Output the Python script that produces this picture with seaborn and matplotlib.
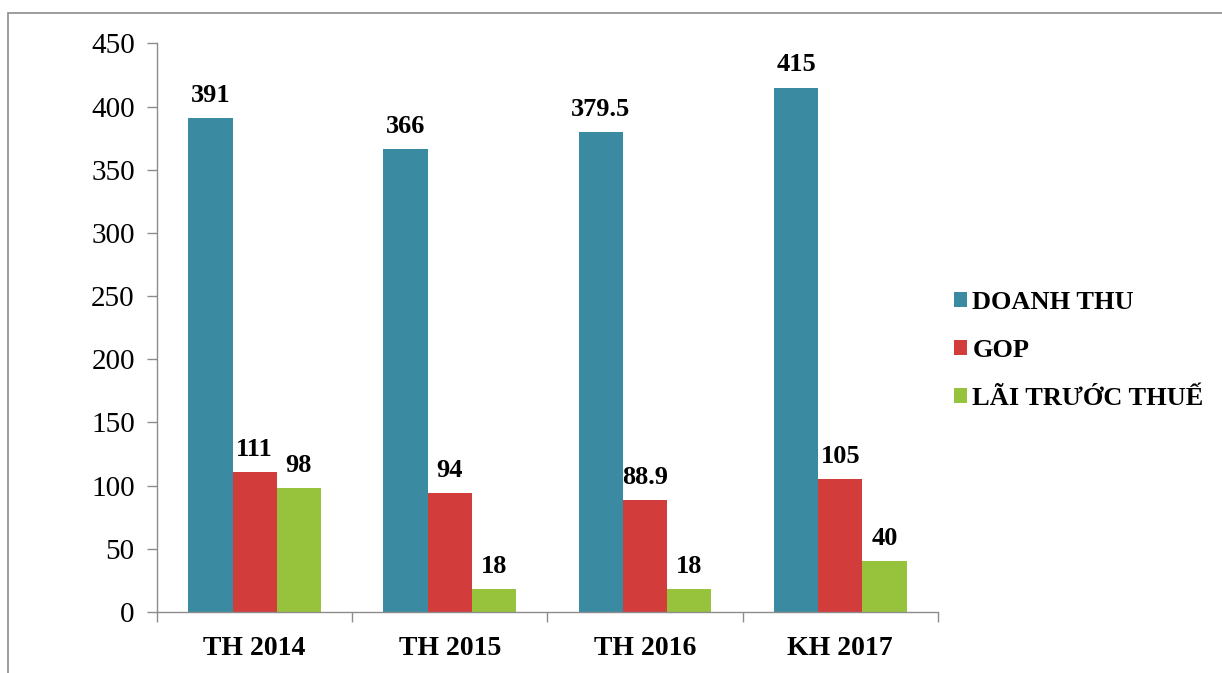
import pandas as pd
import matplotlib.pyplot as plt
import seaborn as sns
from matplotlib.patches import Rectangle

# Data
years = ["TH 2014", "TH 2015", "TH 2016", "KH 2017"]
doanh_thu = [391, 366, 379.5, 415]
gop = [111, 94, 88.9, 105]
lai_truoc_thue = [98, 18, 18, 40]
series_names = ["DOANH THU", "GOP", "LÃI TRƯỚC THUẾ"]
colors = ["#3A8BA2", "#D23C3A", "#97C23B"]

sns.set_theme(style="white")
plt.rcParams['font.family'] = ['Liberation Serif', 'DejaVu Serif']
plt.rcParams.update({
    'text.color': 'black',
    'axes.labelcolor': 'black',
    'xtick.color': 'black',
    'ytick.color': 'black',
})


def fmt(v):
    return f"{v:g}"


def main():
    df = pd.DataFrame({"year": years, series_names[0]: doanh_thu,
                       series_names[1]: gop, series_names[2]: lai_truoc_thue})
    melted = df.melt(id_vars="year", var_name="series", value_name="value")

    fig = plt.figure(figsize=(12.22, 6.73), dpi=100)
    ax = fig.add_axes([0.1285, 0.0906, 0.639, 0.845])

    sns.barplot(data=melted, x="year", y="value", hue="series",
                palette=colors, width=0.68, ax=ax, saturation=1,
                edgecolor="none")

    # Value labels on top of the bars
    for cont in ax.containers:
        ax.bar_label(cont, labels=[fmt(v) for v in cont.datavalues],
                     padding=8, fontsize=19, fontweight="bold", color="black")

    ax.set_ylim(0, 450)
    ax.set_yticks(range(0, 451, 50))
    ax.set_xlim(-0.5, len(years) - 0.5)
    ax.set_xlabel("")
    ax.set_ylabel("")

    for side in ["top", "right"]:
        ax.spines[side].set_visible(False)
    for side in ["left", "bottom"]:
        ax.spines[side].set_color("#8C8C8C")
        ax.spines[side].set_linewidth(1.0)

    ax.tick_params(axis="y", which="major", left=True, length=7, width=1,
                   color="#8C8C8C", labelcolor="black", labelsize=21, pad=9)
    ax.tick_params(axis="x", which="major", bottom=False, labelcolor="black",
                   labelsize=20, pad=11)
    ax.set_xticks([i - 0.5 for i in range(len(years) + 1)], minor=True)
    ax.tick_params(axis="x", which="minor", bottom=True, length=7, width=1,
                   color="#8C8C8C")
    for lbl in ax.get_xticklabels():
        lbl.set_fontweight("bold")

    # Legend on the right
    leg = ax.legend(loc="center left", bbox_to_anchor=(0.99, 0.46),
                    frameon=False, prop={"size": 19, "weight": "bold"},
                    handlelength=0.5, handleheight=0.5, handletextpad=0.2,
                    labelspacing=0.95)
    for t in leg.get_texts():
        t.set_color("black")

    # Outer chart border
    fig.patches.append(Rectangle((8 / 1222, -0.05), 1.0, 1.05 - 13 / 673,
                                 transform=fig.transFigure, fill=False,
                                 edgecolor="#8C8C8C", linewidth=1.2))

    fig.savefig("out.png", dpi=100)
    plt.close(fig)


if __name__ == '__main__':
    main()
